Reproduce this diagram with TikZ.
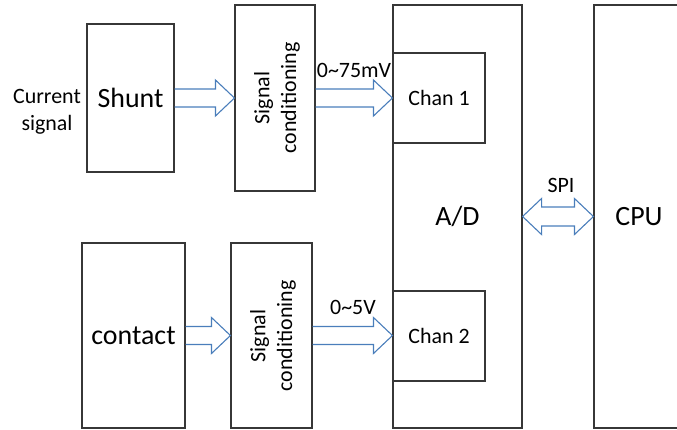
\documentclass[tikz,border=0pt]{standalone}
\usepackage{fontspec}
\setmainfont{Carlito}
\usetikzlibrary{calc}
\definecolor{arrblue}{RGB}{74,126,187}
\definecolor{boxline}{RGB}{55,55,55}
\newcommand\blockarr[2]{%
  \draw[arr] let \p1=(#1.east), \p2=(#2.west) in
    (\x1,\y1+9bp) -- (\x2-19bp,\y1+9bp) -- (\x2-19bp,\y1+18bp) -- (\x2,\y1)
    -- (\x2-19bp,\y1-18bp) -- (\x2-19bp,\y1-9bp) -- (\x1,\y1-9bp);}
\newcommand\dblarr[2]{%
  \draw[arr] let \p1=(#1.east), \p2=(#2.west) in
    (\x1,\y1) -- (\x1+19bp,\y1+18bp) -- (\x1+19bp,\y1+9.5bp) -- (\x2-19bp,\y1+9.5bp)
    -- (\x2-19bp,\y1+18bp) -- (\x2,\y1) -- (\x2-19bp,\y1-18bp) -- (\x2-19bp,\y1-9.5bp)
    -- (\x1+19bp,\y1-9.5bp) -- (\x1+19bp,\y1-18bp) -- cycle;}
\begin{document}
\begin{tikzpicture}[x=1bp,y=-1bp,
  box/.style={draw=boxline,line width=1.1bp,rectangle,inner sep=0pt,
    font=\fontsize{28}{32}\selectfont},
  small/.style={inner sep=0pt,font=\fontsize{22}{27}\selectfont},
  arr/.style={draw=arrblue,line width=1.1bp,line join=miter}]
\useasboundingbox (0,0) rectangle (677,429);
\clip (0,0) rectangle (677,429);
% boxes
\node[box,minimum width=87bp,minimum height=148bp] (shunt) at (130.5,98) {Shunt};
\node[box,minimum width=80bp,minimum height=186bp] (sc1) at (275,98) {};
\node[small,rotate=90,align=center] (sc1t) at (277,98) {Signal\\conditioning};
\node[box,minimum width=103bp,minimum height=185bp] (contact) at (133.5,335.5) {contact};
\node[box,minimum width=81bp,minimum height=185bp] (sc2) at (271.5,335.5) {};
\node[small,rotate=90,align=center] (sc2t) at (273,336) {Signal\\conditioning};
\node[box,minimum width=129bp,minimum height=423bp] (ad) at (457.5,216.5) {A/D};
\node[box,minimum width=92bp,minimum height=90bp,font=\fontsize{22}{27}\selectfont] (chan1) at (439,98) {Chan 1};
\node[box,minimum width=92bp,minimum height=90bp,font=\fontsize{22}{27}\selectfont] (chan2) at (439,336) {Chan 2};
\node[box,minimum width=90bp,minimum height=423bp] (cpu) at (639,216.5) {CPU};
% labels
\node[small,align=center] (cur) at (47,112) {Current\\signal};
\node[small] (l1) at (354,70) {0\textasciitilde75mV};
\node[small] (l2) at (353,307) {0\textasciitilde5V};
\node[small] (spi) at (561,185) {SPI};
% arrows
\blockarr{shunt}{sc1}
\blockarr{sc1}{chan1}
\blockarr{contact}{sc2}
\blockarr{sc2}{chan2}
\dblarr{ad}{cpu}
\end{tikzpicture}
\end{document}
